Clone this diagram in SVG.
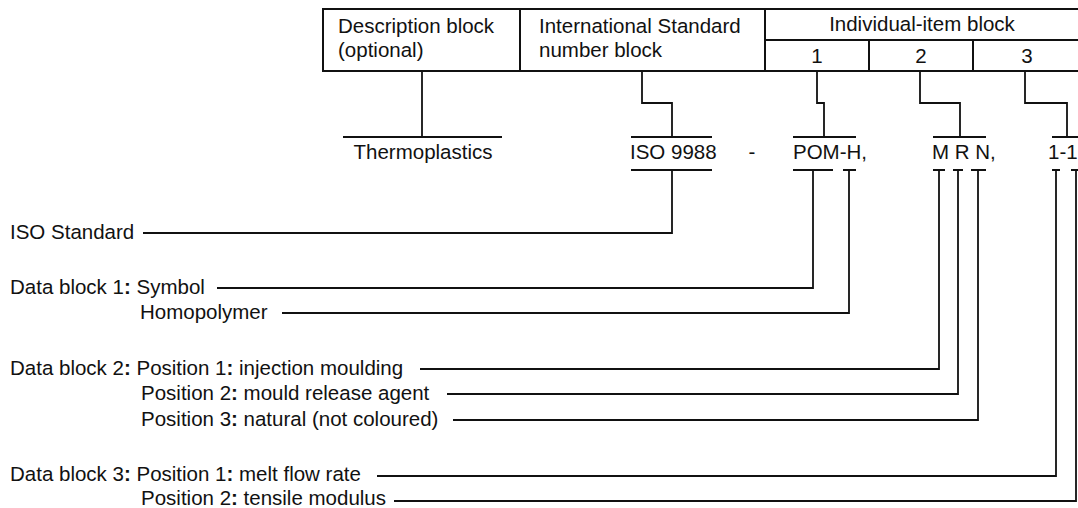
<svg xmlns="http://www.w3.org/2000/svg" width="1078" height="508" viewBox="0 0 1078 508">
<style>
text{font-family:"Liberation Sans",Arial,Helvetica,sans-serif;font-size:20.5px;fill:#111}
.m{text-anchor:middle}
.b{font-weight:bold}
.tb{fill:none;stroke:#111;stroke-width:2}
.bar{fill:none;stroke:#111;stroke-width:2}
.cn{fill:none;stroke:#111;stroke-width:1.8}
</style>
<rect width="1078" height="508" fill="#fff"/>
<g id="table">
<rect class="tb" x="323" y="9" width="760" height="62"/>
<path class="tb" d="M520 9V71M765 9V71M765 40H1080M869 40V71M973 40V71"/>
<g id="desc-block"><text x="338" y="33">Description block</text><text x="338" y="57">(optional)</text></g>
<g id="isn-block"><text x="539" y="33">International Standard</text><text x="539" y="57">number block</text></g>
<g id="item-block"><text class="m" x="922" y="31">Individual-item block</text></g>
<g id="item-1"><text class="m" x="817" y="63">1</text></g>
<g id="item-2"><text class="m" x="921" y="63">2</text></g>
<g id="item-3"><text class="m" x="1027" y="63">3</text></g>
</g>
<g id="code-thermoplastics"><path class="bar" d="M343 137H502"/><text class="m" x="423" y="159">Thermoplastics</text></g>
<g id="code-iso"><path class="bar" d="M631 137H712M631 170H712"/><text x="630" y="159">ISO 9988</text></g>
<g id="code-dash"><text class="m" x="752" y="159">-</text></g>
<g id="code-pom"><path class="bar" d="M793 137H856M793 170H833M843 170H856"/><text x="793" y="159">POM-H,</text></g>
<g id="code-mrn"><path class="bar" d="M933 137H986M933 170H945M953 170H963M971 170H986"/><text x="932" y="159">M R N,</text></g>
<g id="code-11"><path class="bar" d="M1052 137H1080M1052 170H1060M1071 170H1080"/><text x="1048" y="159">1-1</text></g>
<g id="label-iso"><text x="10" y="239">ISO Standard</text></g>
<g id="label-db1"><text x="10" y="294">Data block 1<tspan class="b">:</tspan> Symbol</text></g>
<g id="label-homo"><text x="140" y="319">Homopolymer</text></g>
<g id="label-db2p1"><text x="10" y="375">Data block 2<tspan class="b">:</tspan> Position 1<tspan class="b">:</tspan> injection moulding</text></g>
<g id="label-db2p2"><text x="141" y="400">Position 2<tspan class="b">:</tspan> mould release agent</text></g>
<g id="label-db2p3"><text x="141" y="426">Position 3<tspan class="b">:</tspan> natural (not coloured)</text></g>
<g id="label-db3p1"><text x="10" y="481">Data block 3<tspan class="b">:</tspan> Position 1<tspan class="b">:</tspan> melt flow rate</text></g>
<g id="label-db3p2"><text x="141" y="505">Position 2<tspan class="b">:</tspan> tensile modulus</text></g>
<g id="connectors">
<path class="cn" d="M422 71V137"/>
<path class="cn" d="M642 71V103H672V137"/>
<path class="cn" d="M817 71V103H824V137"/>
<path class="cn" d="M920 71V103H960V137"/>
<path class="cn" d="M1025 71V103H1067V137"/>
<path class="cn" d="M143 233H672V170"/>
<path class="cn" d="M217 288H813V170"/>
<path class="cn" d="M282 313H849V170"/>
<path class="cn" d="M420 369H939V170"/>
<path class="cn" d="M447 394H958V170"/>
<path class="cn" d="M453 420H978V170"/>
<path class="cn" d="M377 476H1056V170"/>
<path class="cn" d="M394 501H1076V170"/>
</g>
</svg>
